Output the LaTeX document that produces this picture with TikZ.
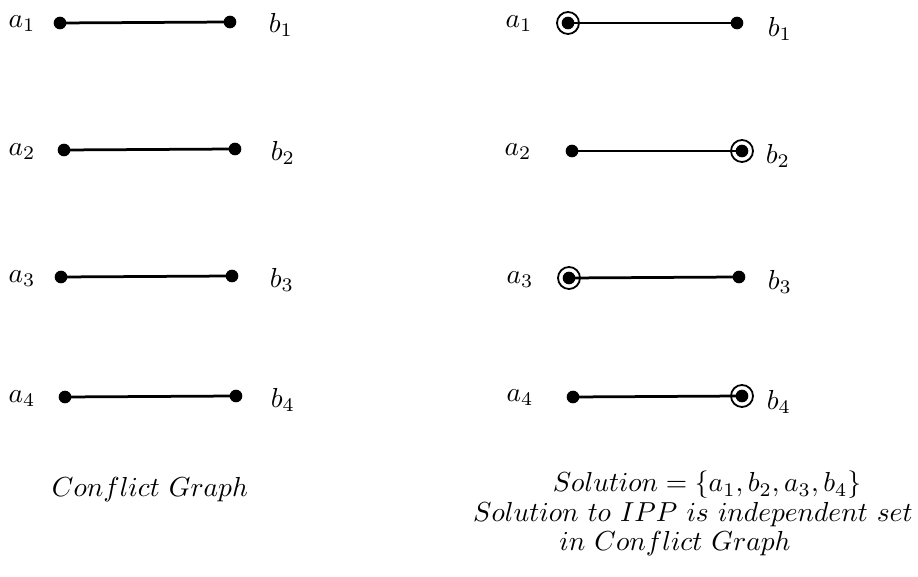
\documentclass[tikz,border=0pt]{standalone}
\begin{document}
\begin{tikzpicture}[x=0.3636pt,y=-0.3636pt,
  vtx/.style={circle,fill=black,inner sep=0pt,minimum size=4.6pt},
  sel/.style={circle,draw=black,line width=0.65pt,inner sep=0pt,minimum size=8pt},
  edge/.style={line width=1pt},
  lbl/.style={inner sep=0pt}]
\useasboundingbox (0,0) rectangle (918,577);
% Left graph
\node[vtx] (la1) at (60,23) {};
\node[vtx] (lb1) at (230,22) {};
\node[vtx] (la2) at (64,150) {};
\node[vtx] (lb2) at (235,149) {};
\node[vtx] (la3) at (61,277) {};
\node[vtx] (lb3) at (232,276) {};
\node[vtx] (la4) at (65,397) {};
\node[vtx] (lb4) at (236,396) {};
\foreach \i in {1,...,4} \draw[edge] (la\i.center) -- (lb\i.center);
\node[lbl] (tla1) at (22,24) {$a_1$};
\node[lbl] (tlb1) at (281,25) {$b_1$};
\node[lbl] (tla2) at (22,152) {$a_2$};
\node[lbl] (tlb2) at (283,153) {$b_2$};
\node[lbl] (tla3) at (22,279) {$a_3$};
\node[lbl] (tlb3) at (282,280) {$b_3$};
\node[lbl] (tla4) at (22,399) {$a_4$};
\node[lbl] (tlb4) at (283,400) {$b_4$};
\node[lbl,anchor=base] (capl) at (150,497) {$Conflict\ Graph$};
% Right graph
\node[vtx] (ra1) at (568,23) {};
\node[vtx] (rb1) at (737,23) {};
\node[vtx] (ra2) at (572,151) {};
\node[vtx] (rb2) at (742,151) {};
\node[vtx] (ra3) at (569,278) {};
\node[vtx] (rb3) at (739,277) {};
\node[vtx] (ra4) at (573,397) {};
\node[vtx] (rb4) at (742,396) {};
\foreach \i in {1,...,4} \draw[edge] (ra\i.center) -- (rb\i.center);
\node[sel] (sa1) at (ra1) {};
\node[sel] (sb2) at (rb2) {};
\node[sel] (sa3) at (ra3) {};
\node[sel] (sb4) at (rb4) {};
\node[lbl] (tra1) at (519,24) {$a_1$};
\node[lbl] (trb1) at (780,29) {$b_1$};
\node[lbl] (tra2) at (518,152) {$a_2$};
\node[lbl] (trb2) at (778,156) {$b_2$};
\node[lbl] (tra3) at (520,280) {$a_3$};
\node[lbl] (trb3) at (780,282) {$b_3$};
\node[lbl] (tra4) at (520,398) {$a_4$};
\node[lbl] (trb4) at (779,402) {$b_4$};
\node[lbl,anchor=base] (capr1) at (707,492) {$Solution = \{a_1, b_2, a_3, b_4\}$};
\node[lbl,anchor=base] (capr2) at (693,522) {$Solution\ to\ IPP\ is\ independent\ set$};
\node[lbl,anchor=base] (capr3) at (675,551) {$in\ Conflict\ Graph$};
\end{tikzpicture}
\end{document}
